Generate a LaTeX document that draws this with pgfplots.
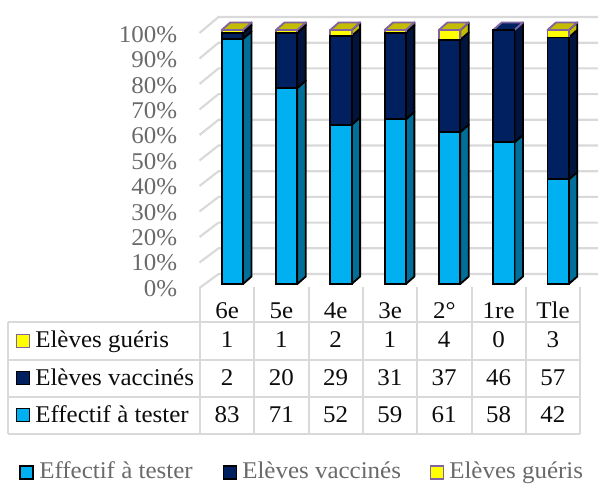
\documentclass[border=0pt]{standalone}
\usepackage{pgfplots}
\pgfplotsset{compat=1.18}
\usepackage{pgfplotstable}
\usepackage{fontspec}
\setmainfont[FakeStretch=1.04]{Liberation Serif}
\definecolor{cy}{HTML}{00B0F0}
\definecolor{na}{HTML}{002060}
\definecolor{ye}{HTML}{FFFF00}
\definecolor{cyd}{HTML}{00709A}
\definecolor{nad}{HTML}{00143E}
\definecolor{yed}{HTML}{C4BC00}
\definecolor{pu}{HTML}{8064A2}
\definecolor{gr}{HTML}{D9D9D9}
\definecolor{tx}{HTML}{6A6A6A}
\pgfplotstableread{
x tester vaccines gueris
0 96.51 2.33 1.16
1 77.17 21.74 1.09
2 62.65 34.94 2.41
3 64.84 34.07 1.09
4 59.80 36.27 3.93
5 55.77 44.23 0
6 41.18 55.88 2.94
}\pct
\newcommand\side[4]{% column, bottom, top, colour
 \pgfmathsetmacro\xa{#1+0.196}\pgfmathsetmacro\xb{#1+0.3525}
 \pgfmathsetmacro\ya{#2+2.95}\pgfmathsetmacro\yb{#3+2.95}
 \addplot[sharp plot,fill=#4,draw=black,line width=1.4pt,line join=round] coordinates {(\xa,#2)(\xb,\ya)(\xb,\yb)(\xa,#3)} -- cycle;
}
\newcommand\topf[3]{% column, line colour, fill
 \pgfmathsetmacro\xa{#1-0.196}\pgfmathsetmacro\xb{#1+0.196}
 \pgfmathsetmacro\xc{#1+0.3525}\pgfmathsetmacro\xd{#1-0.0395}
 \addplot[sharp plot,fill=#3,draw=#2,line width=1.4pt,line join=round] coordinates {(\xa,100)(\xb,100)(\xc,102.95)(\xd,102.95)} -- cycle;
}
\pgfplotsset{bars/.style={scale only axis,width=285.075pt,height=190.5pt,at={(153.9pt,150pt)},anchor=south west,
  xmin=-0.5,xmax=6.5,ymin=0,ymax=100,clip=false,axis line style={draw=none},tick style={draw=none}}}
\begin{document}
\begin{tikzpicture}[font=\fontsize{18pt}{20pt}\selectfont]
\path[use as bounding box] (0,0) rectangle (448.5pt,363pt);
\begin{scope}[x=.75pt,y=-.75pt,yshift=363pt]
 % back wall and left wall
 \foreach \i in {0,...,10}{
  \draw[gr,line width=1.6pt] (199.5,288-25.5*\i) -- (218.5,274-25.7*\i) -- (598,274-25.7*\i);
 }
\end{scope}
\begin{axis}[bars,xtick=\empty,ytick=\empty]
 \side{0}{0}{96.51}{cyd}\side{0}{96.51}{98.84}{nad}\side{0}{98.84}{100}{yed}
 \side{1}{0}{77.17}{cyd}\side{1}{77.17}{98.91}{nad}\side{1}{98.91}{100}{yed}
 \side{2}{0}{62.65}{cyd}\side{2}{62.65}{97.59}{nad}\side{2}{97.59}{100}{yed}
 \side{3}{0}{64.84}{cyd}\side{3}{64.84}{98.91}{nad}\side{3}{98.91}{100}{yed}
 \side{4}{0}{59.80}{cyd}\side{4}{59.80}{96.07}{nad}\side{4}{96.07}{100}{yed}
 \side{5}{0}{55.77}{cyd}\side{5}{55.77}{100}{nad}
 \side{6}{0}{41.18}{cyd}\side{6}{41.18}{97.06}{nad}\side{6}{97.06}{100}{yed}
 \topf{0}{pu}{yed}\topf{1}{pu}{yed}\topf{2}{pu}{yed}\topf{3}{pu}{yed}\topf{4}{pu}{yed}\topf{5}{pu}{na}\topf{6}{pu}{yed}
\end{axis}
\begin{axis}[bars,ybar stacked,bar width=16pt,
  ytick={0,10,...,100},
  yticklabels={0\%,10\%,20\%,30\%,40\%,50\%,60\%,70\%,80\%,90\%,100\%},
  yticklabel style={anchor=base east,text=tx,xshift=-17.5pt,yshift=-9.3pt},
  xtick={0,...,6},
  xticklabels={6e,5e,4e,3e,2°,1re,Tle},
  xticklabel style={anchor=base,text=black!95,xshift=-3.9pt,yshift=-26pt},
  ]
 \addplot[fill=cy,draw=black,line width=1.4pt] table[x=x,y=tester] {\pct};
 \addplot[fill=na,draw=black,line width=1.4pt] table[x=x,y=vaccines] {\pct};
 \addplot[fill=ye,draw=pu,line width=1.4pt] table[x=x,y=gueris] {\pct};
\end{axis}
\begin{scope}[x=.75pt,y=-.75pt,yshift=363pt]
 % table
 \foreach \y in {322,360,397,434} \draw[gr,line width=1.5pt] (8,\y) -- (580,\y);
 \draw[gr,line width=1.5pt] (8,322) -- (8,434);
 \foreach \x in {200,254,309,363,417,472,526,580} \draw[gr,line width=1.5pt] (\x,287) -- (\x,434);
 \draw[pu,fill=ye,line width=1.4pt] (16.5,334.5) rectangle (29.5,347.5);
 \draw[black,fill=na,line width=1.4pt] (16.5,371.5) rectangle (29.5,384.5);
 \draw[black,fill=cy,line width=1.4pt] (16.5,408.5) rectangle (29.5,421.5);
 \node[anchor=base west,inner sep=0pt,text=black!95] at (35,348) {Elèves guéris};
 \node[anchor=base west,inner sep=0pt,text=black!95] at (35,386) {Elèves vaccinés};
 \node[anchor=base west,inner sep=0pt,text=black!95] at (35,423) {Effectif à tester};
 \foreach \v [count=\i from 0] in {1,1,2,1,4,0,3} \node[anchor=base,inner sep=0pt,text=black!95] at (227+54.3*\i,348) {\v};
 \foreach \v [count=\i from 0] in {2,20,29,31,37,46,57} \node[anchor=base,inner sep=0pt,text=black!95] at (227+54.3*\i,386) {\v};
 \foreach \v [count=\i from 0] in {83,71,52,59,61,58,42} \node[anchor=base,inner sep=0pt,text=black!95] at (227+54.3*\i,423) {\v};
 % legend
 \draw[black,fill=cy,line width=1.4pt] (20,466) rectangle (33,479);
 \node[anchor=base west,inner sep=0pt,text=tx] at (39,478.5) {Effectif à tester};
 \draw[black,fill=na,line width=1.4pt] (223.5,466) rectangle (236.5,479);
 \node[anchor=base west,inner sep=0pt,text=tx] at (242,478.5) {Elèves vaccinés};
 \draw[pu,fill=ye,line width=1.4pt] (430.5,466) rectangle (443.5,479);
 \node[anchor=base west,inner sep=0pt,text=tx] at (449,478.5) {Elèves guéris};
\end{scope}
\end{tikzpicture}
\end{document}
